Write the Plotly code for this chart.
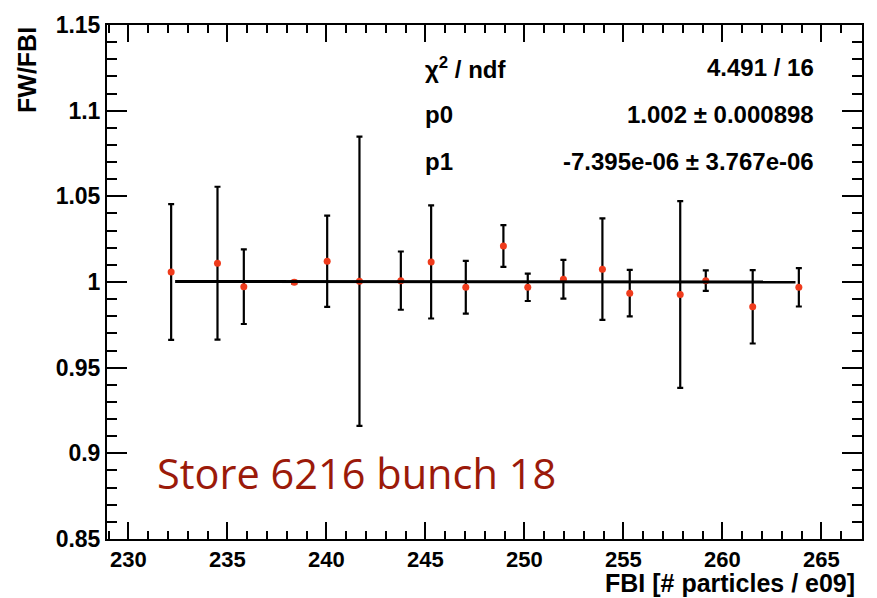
import plotly.graph_objects as go

# Measured ratio FW/FBI versus FBI intensity, with uncertainties
fbi = [232.16, 234.50, 235.83, 238.38, 240.04, 241.67, 243.76, 245.29, 247.04,
       248.94, 250.17, 251.97, 253.94, 255.32, 257.87, 259.16, 261.53, 263.86]
ratio = [1.0058, 1.0110, 0.9973, 0.9998, 1.0121, 1.0004, 1.0008, 1.0117, 0.9969,
         1.0210, 0.9969, 1.0016, 1.0075, 0.9935, 0.9927, 1.0008, 0.9855, 0.9969]
ratio_err = [0.0396, 0.0446, 0.0218, 0.0008, 0.0266, 0.0844, 0.0170, 0.0330, 0.0154,
             0.0122, 0.0080, 0.0113, 0.0296, 0.0136, 0.0545, 0.0060, 0.0214, 0.0112]

# Linear fit result (pol1) and its range
p0, p0_err = 1.002, 0.000898
p1, p1_err = -7.395e-06, 3.767e-06
chi2, ndf = 4.491, 16
fit_range = [232.36, 263.69]

x_ticks = [230, 235, 240, 245, 250, 255, 260, 265]
y_ticks = [0.85, 0.9, 0.95, 1.0, 1.05, 1.1, 1.15]
y_tick_text = ["0.85", "0.9", "0.95", "1", "1.05", "1.1", "1.15"]

fit_x = fit_range
fit_y = [p0 + p1 * v for v in fit_x]

bold = dict(family="Liberation Sans", color="black", weight="bold")

fig = go.Figure()
fig.add_trace(go.Scatter(
    x=fbi, y=ratio, mode="markers",
    marker=dict(color="#ef3b1c", size=7),
    error_y=dict(type="data", array=ratio_err, visible=True,
                 color="black", thickness=2.2, width=3),
    showlegend=False,
))
fig.add_trace(go.Scatter(
    x=fit_x, y=fit_y, mode="lines",
    line=dict(color="black", width=3), showlegend=False,
))

axis_common = dict(
    showgrid=False, zeroline=False, showline=True, linecolor="black",
    linewidth=2, mirror="allticks", ticks="inside", tickcolor="black",
    tickwidth=1.5,
)
fig.update_xaxes(
    range=[228.92, 267.05], tickvals=x_ticks, ticklen=17,
    tickfont=dict(size=22, **bold),
    minor=dict(dtick=1, tick0=230, ticks="inside", ticklen=8,
               tickcolor="black", tickwidth=1.5),
    **axis_common,
)
fig.update_yaxes(
    range=[0.85, 1.15], tickvals=y_ticks, ticktext=y_tick_text, ticklen=20,
    tickfont=dict(size=23, **bold),
    minor=dict(dtick=0.01, tick0=0.85, ticks="inside", ticklen=10,
               tickcolor="black", tickwidth=1.5),
    **axis_common,
)

fig.update_layout(
    width=877, height=598,
    margin=dict(l=107, r=15, t=19, b=59),
    plot_bgcolor="white", paper_bgcolor="white",
)

# Axis titles, ROOT style (right / top aligned)
fig.add_annotation(text="FW/FBI", xref="paper", yref="paper",
                   x=-0.106, y=1.0, xanchor="center", yanchor="top",
                   textangle=-90, showarrow=False, font=dict(size=25, **bold))
fig.add_annotation(text="FBI [# particles / e09]", xref="paper", yref="paper",
                   x=0.993, y=-0.086, xanchor="right", yanchor="middle",
                   showarrow=False, font=dict(size=25, **bold))

# Fit statistics
stats_rows = [
    ("\u03c7<sup>2</sup> / ndf", f"{chi2} / {ndf}"),
    ("p0", f"{p0} \u00b1 {p0_err}"),
    ("p1", f"{p1:.3e} \u00b1 {p1_err:.3e}"),
]
row_y = [0.917, 0.825, 0.735]
for (label, value), yy in zip(stats_rows, row_y):
    fig.add_annotation(text=label, xref="paper", yref="paper", x=0.418, y=yy,
                       xanchor="left", yanchor="middle", showarrow=False,
                       font=dict(size=24, **bold))
    fig.add_annotation(text=value, xref="paper", yref="paper", x=0.939, y=yy,
                       xanchor="right", yanchor="middle", showarrow=False,
                       font=dict(size=24, **bold))

fig.add_annotation(text="Store 6216 bunch 18", xref="paper", yref="paper",
                   x=0.064, y=0.129, xanchor="left", yanchor="middle",
                   showarrow=False,
                   font=dict(family="Open Sans", size=41.5, color="#9b1a0a"))

fig.write_html("out.html")
